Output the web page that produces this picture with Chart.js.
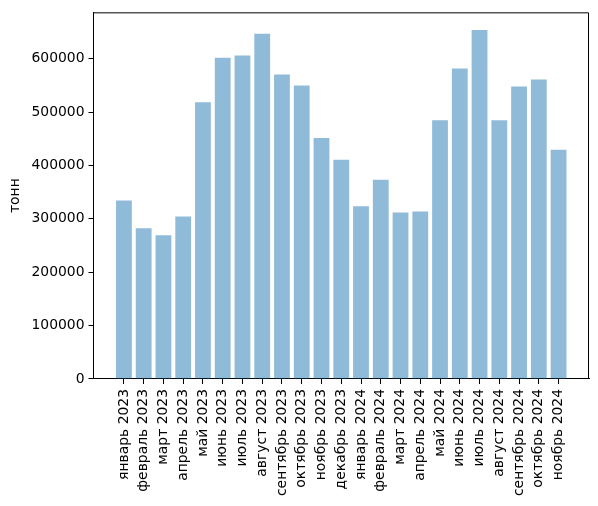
<!DOCTYPE html>
<html>
<head>
<meta charset="utf-8">
<script src="https://cdn.jsdelivr.net/npm/chart.js@4"></script>
<style>
  html, body { margin: 0; padding: 0; background: #fff; }
  #wrap { width: 598px; height: 506px; }
</style>
</head>
<body>
<div id="wrap"><canvas id="tonn-chart" width="598" height="506"></canvas></div>
<script>
var months = ['январь 2023', 'февраль 2023', 'март 2023', 'апрель 2023', 'май 2023', 'июнь 2023',
  'июль 2023', 'август 2023', 'сентябрь 2023', 'октябрь 2023', 'ноябрь 2023', 'декабрь 2023',
  'январь 2024', 'февраль 2024', 'март 2024', 'апрель 2024', 'май 2024', 'июнь 2024',
  'июль 2024', 'август 2024', 'сентябрь 2024', 'октябрь 2024', 'ноябрь 2024'];
var tonnes = [334500, 282500, 269500, 304500, 518500, 602000, 606000, 647000, 570500, 550000,
  451500, 411000, 323500, 373500, 312000, 314000, 485000, 582000, 654000, 485000,
  548000, 561000, 429500];
var yTicks = [0, 100000, 200000, 300000, 400000, 500000, 600000];

var font = { family: 'DejaVu Sans', size: 13.9 };

// top and right spines (left and bottom come from the axes)
var frame = {
  id: 'frame',
  afterDraw: function (chart) {
    var a = chart.chartArea, ctx = chart.ctx;
    ctx.save();
    ctx.strokeStyle = '#000';
    ctx.lineWidth = 1;
    ctx.beginPath();
    ctx.moveTo(a.left, a.top + 0.5);
    ctx.lineTo(a.right - 0.5, a.top + 0.5);
    ctx.lineTo(a.right - 0.5, a.bottom);
    ctx.stroke();
    ctx.restore();
  }
};

var ctx = document.getElementById('tonn-chart').getContext('2d');
new Chart(ctx, {
  type: 'bar',
  data: {
    datasets: [{
      label: 'тонн',
      backgroundColor: 'rgba(31,119,180,0.5)',
      borderWidth: 0,
      data: tonnes.map(function (v, i) { return { x: i, y: v }; }),
      categoryPercentage: 1,
      barPercentage: 0.8
    }]
  },
  options: {
    responsive: false,
    animation: false,
    layout: { padding: { left: 0, top: 6, right: 9, bottom: 0 } },
    plugins: { legend: { display: false }, tooltip: { enabled: false } },
    scales: {
      x: {
        type: 'linear',
        offset: false,
        min: -1.54,
        max: months.length - 1 + 1.54,
        grid: { offset: false, drawOnChartArea: false, drawTicks: true, tickLength: 5, color: '#000' },
        border: { display: true, color: '#000' },
        afterBuildTicks: function (scale) {
          scale.ticks = months.map(function (m, i) { return { value: i }; });
        },
        afterFit: function (scale) { scale.height = 127; },
        ticks: {
          autoSkip: false,
          minRotation: 90,
          maxRotation: 90,
          padding: 5,
          color: '#000',
          font: font,
          callback: function (v) { return months[v]; }
        }
      },
      y: {
        min: 0,
        max: 687000,
        grid: { drawOnChartArea: false, drawTicks: true, tickLength: 5, color: '#000' },
        border: { display: true, color: '#000' },
        afterBuildTicks: function (scale) {
          scale.ticks = yTicks.map(function (t) { return { value: t }; });
        },
        afterFit: function (scale) { scale.width = 93.5; },
        title: { display: true, text: 'тонн', color: '#000', font: font, padding: { top: 7, bottom: 0 } },
        ticks: { padding: 4, color: '#000', font: font, callback: function (v) { return String(v); } }
      }
    }
  },
  plugins: [frame]
});
</script>
</body>
</html>
